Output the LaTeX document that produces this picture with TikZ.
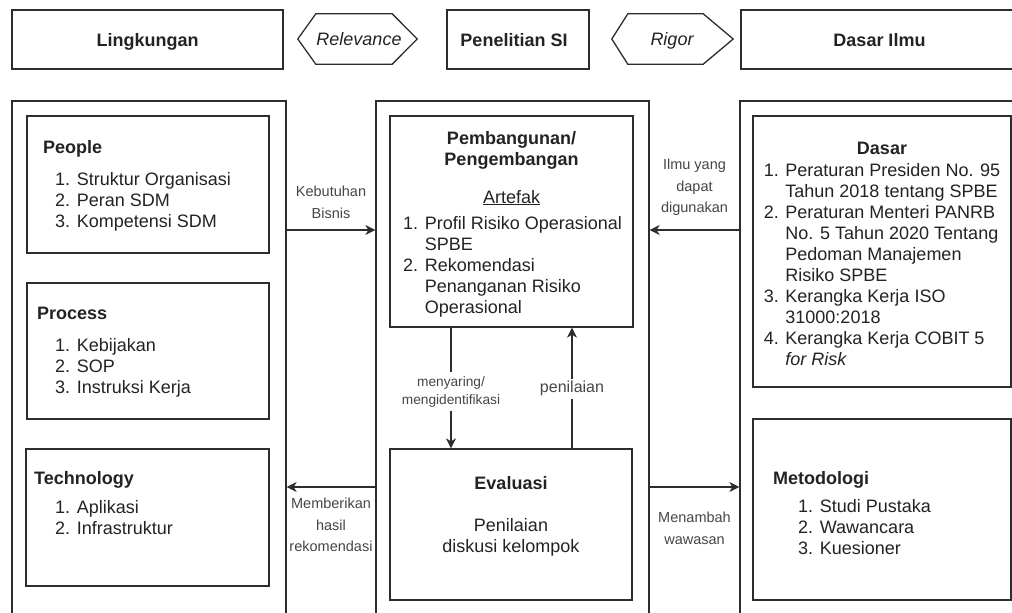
\documentclass[tikz,border=0pt]{standalone}
\usepackage{fontspec}
\setmainfont{Liberation Sans}
\usetikzlibrary{arrows.meta,fit}
\definecolor{ln}{RGB}{45,45,45}
\definecolor{tx}{RGB}{35,35,35}
\definecolor{lb}{RGB}{70,70,70}
\newcommand{\bodyfs}{\fontsize{18}{21}\selectfont}
\newcommand{\lblfs}{\fontsize{14.5}{21.5}\selectfont}
\newcommand{\smfs}{\fontsize{13.7}{18.5}\selectfont}
\newcommand{\penfs}{\fontsize{16}{19}\selectfont}
\newcommand{\numlist}[1]{\begin{tabular}[t]{@{}l@{ }l@{}}#1\end{tabular}}
\newcommand{\clines}[1]{\begin{tabular}[t]{@{}c@{}}#1\end{tabular}}
\begin{document}
\begin{tikzpicture}[x=1pt,y=-1pt,
  box/.style={draw=ln, line width=1.3pt, rectangle, inner sep=0pt},
  hexa/.style={draw=ln, line width=1.3pt, line join=miter},
  hd/.style={text=tx, inner sep=0pt, font=\bodyfs\bfseries},
  bt/.style={text=tx, inner sep=0pt, font=\bodyfs},
  lbl/.style={text=lb, inner sep=0pt, font=\lblfs},
  arr/.style={draw=ln, line width=1.3pt, -{Stealth[length=10pt,width=10pt,inset=3pt]}}]
\useasboundingbox (0,0) rectangle (1012,613);
\clip (0,0) rectangle (1012,613);
\fill[white] (0,0) rectangle (1012,613);

% top row
\node[box, fit={(12,10)(283,69)}] (ling) {};
\node[hd, anchor=base] (lingt) at (147.5,46.5) {Lingkungan};
\node[inner sep=0pt, fit={(298,14)(417,64)}] (rel) {};
\draw[hexa] (rel.west) -- ([xshift=18pt]rel.north west) -- ([xshift=-25pt]rel.north east) -- (rel.east) -- ([xshift=-25pt]rel.south east) -- ([xshift=18pt]rel.south west) -- cycle;
\node[bt, font=\bodyfs\itshape, anchor=base] (relt) at (359,45.5) {Relevance};
\node[box, fit={(447,10)(589,69)}] (pen) {};
\node[hd, anchor=base] (pent) at (514,46.5) {Penelitian SI};
\node[inner sep=0pt, fit={(612,14)(733,64)}] (rig) {};
\draw[hexa] (rig.west) -- ([xshift=16pt]rig.north west) -- ([xshift=-30pt]rig.north east) -- (rig.east) -- ([xshift=-30pt]rig.south east) -- ([xshift=16pt]rig.south west) -- cycle;
\node[bt, font=\bodyfs\itshape, anchor=base] (rigt) at (672,45.5) {Rigor};
\node[box, fit={(741,10)(1030,69)}] (dil) {};
\node[hd, anchor=base] (dilt) at (879.5,46.5) {Dasar Ilmu};

% outer columns
\node[box, fit={(12,101)(286,650)}] (lout) {};
\node[box, fit={(376,101)(649,650)}] (cout) {};
\node[box, fit={(740,101)(1030,650)}] (rout) {};

% left inner boxes
\node[box, fit={(27,116)(269,253)}] (people) {};
\node[hd, anchor=base west] (peopleh) at (43,153) {People};
\node[bt, anchor=base west] (peoplel) at (55,185) {\numlist{1.&Struktur Organisasi\\2.&Peran SDM\\3.&Kompetensi SDM}};

\node[box, fit={(27,283)(269,419)}] (process) {};
\node[hd, anchor=base west] (processh) at (37,319) {Process};
\node[bt, anchor=base west] (processl) at (55,351) {\numlist{1.&Kebijakan\\2.&SOP\\3.&Instruksi Kerja}};

\node[box, fit={(26,449)(269,586)}] (tech) {};
\node[hd, anchor=base west] (techh) at (34,484) {Technology};
\node[bt, anchor=base west] (techl) at (55,513) {\numlist{1.&Aplikasi\\2.&Infrastruktur}};

% center inner boxes
\node[box, fit={(390,116)(633,327)}] (pemb) {};
\node[hd, anchor=base] (pembh) at (511.5,144) {\clines{Pembangunan/\\Pengembangan}};
\node[bt, anchor=base] (artf) at (511.7,203) {\underline{Artefak}};
\node[bt, anchor=base west] (pembl) at (403,229) {\numlist{1.&Profil Risiko Operasional\\&SPBE\\2.&Rekomendasi\\&Penanganan Risiko\\&Operasional}};

\node[box, fit={(390,449)(632,600)}] (eval) {};
\node[hd, anchor=base] (evh) at (511,489) {Evaluasi};
\node[bt, anchor=base] (evt) at (511,531) {\clines{Penilaian\\diskusi kelompok}};

% right inner boxes
\node[box, fit={(753,116)(1011,387)}] (dasar) {};
\node[hd, anchor=base] (dash) at (882,154) {Dasar};
\node[bt, anchor=base] (dasl) at (882,176) {\numlist{1.&Peraturan Presiden No. 95\\&Tahun 2018 tentang SPBE\\2.&Peraturan Menteri PANRB\\&No. 5 Tahun 2020 Tentang\\&Pedoman Manajemen\\&Risiko SPBE\\3.&Kerangka Kerja ISO\\&31000:2018\\4.&Kerangka Kerja COBIT 5\\&\textit{for Risk}}};

\node[box, fit={(753,419)(1011,600)}] (meto) {};
\node[hd, anchor=base west] (metoh) at (773,484) {Metodologi};
\node[bt, anchor=base west] (metol) at (798,512) {\numlist{1.&Studi Pustaka\\2.&Wawancara\\3.&Kuesioner}};

% connectors
\coordinate (yup) at (0,230);
\coordinate (ylo) at (0,487);
\coordinate (xm) at (451,0);
\coordinate (xp) at (572,0);
\draw[arr] (yup -| lout.east) -- (yup -| cout.west) node[lbl, midway, anchor=base, yshift=33.5pt] (kb) {\clines{Kebutuhan\\Bisnis}};
\draw[arr] (yup -| rout.west) -- (yup -| cout.east) node[lbl, midway, anchor=base, yshift=60.5pt] (ilmu) {\clines{Ilmu yang\\dapat\\digunakan}};
\draw[arr] (ylo -| cout.west) -- (ylo -| lout.east) node[lbl, midway, anchor=base, yshift=-21.5pt] (mem) {\clines{Memberikan\\hasil\\rekomendasi}};
\draw[arr] (ylo -| cout.east) -- (ylo -| rout.west) node[lbl, midway, anchor=base, yshift=-35.5pt] (men) {\clines{Menambah\\wawasan}};
\draw[arr] (xm |- pemb.south) -- (xm |- eval.north) node[lbl, font=\smfs, fill=white, inner sep=1pt, pos=0.486, anchor=base] (meny) {\clines{menyaring/\\mengidentifikasi}};
\draw[arr] (xp |- eval.north) -- (xp |- pemb.south) node[lbl, font=\penfs, fill=white, inner sep=0.5pt, pos=0.459, anchor=base] (pnl) {\clines{penilaian}};
\end{tikzpicture}
\end{document}
